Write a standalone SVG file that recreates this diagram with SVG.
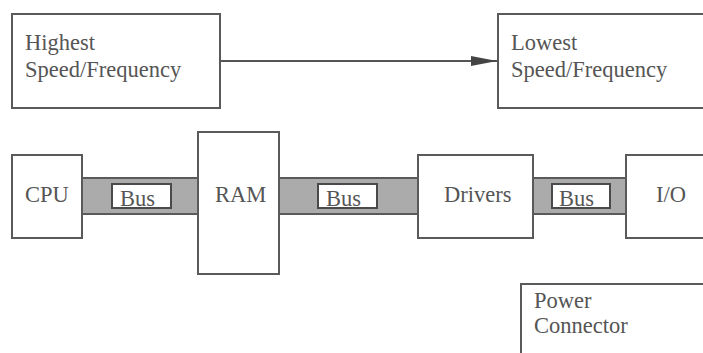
<svg xmlns="http://www.w3.org/2000/svg" width="703" height="353" viewBox="0 0 703 353">
<style>
.box{fill:#fff;stroke:#5a5a5a;stroke-width:2}
.bus{fill:#ababab;stroke:#5a5a5a;stroke-width:2}
.lbl{fill:#fff;stroke:#4a4a4a;stroke-width:2}
text{font-family:'Liberation Serif','DejaVu Serif',serif;font-size:22.5px;fill:#555}
.conn{stroke:#555;stroke-width:2;fill:none}
</style>
<defs>
<marker id="ah" markerWidth="26" markerHeight="10" refX="26" refY="5" orient="auto" markerUnits="userSpaceOnUse">
<path d="M0,0 L26,5 L0,10 Z" fill="#444"/>
</marker>
</defs>
<rect width="703" height="353" fill="#fff"/>
<g id="connectors">
<line class="conn" x1="220" y1="61" x2="497" y2="61" marker-end="url(#ah)"/>
<g id="bus1"><rect class="bus" x="82" y="178" width="116" height="36"/><rect class="lbl" x="112" y="184" width="59" height="24"/><text x="120" y="206">Bus</text></g>
<g id="bus2"><rect class="bus" x="279" y="178" width="139" height="36"/><rect class="lbl" x="318" y="184" width="59" height="24"/><text x="326" y="206">Bus</text></g>
<g id="bus3"><rect class="bus" x="533" y="178" width="93" height="36"/><rect class="lbl" x="552" y="184" width="58" height="24"/><text x="559" y="206">Bus</text></g>
</g>
<g id="highest"><rect class="box" x="12" y="14" width="208" height="94"/><text x="25" y="50">Highest</text><text x="25" y="77">Speed/Frequency</text></g>
<g id="lowest"><rect class="box" x="498" y="14" width="220" height="94"/><text x="511" y="50">Lowest</text><text x="511" y="77">Speed/Frequency</text></g>
<g id="cpu"><rect class="box" x="12" y="155" width="70" height="83"/><text x="25" y="202">CPU</text></g>
<g id="ram"><rect class="box" x="198" y="132" width="81" height="142"/><text x="215" y="202">RAM</text></g>
<g id="drivers"><rect class="box" x="418" y="155" width="115" height="83"/><text x="444" y="202">Drivers</text></g>
<g id="io"><rect class="box" x="626" y="155" width="90" height="83"/><text x="656" y="202">I/O</text></g>
<g id="power"><rect class="box" x="521" y="284" width="200" height="90"/><text x="534" y="308">Power</text><text x="534" y="333">Connector</text></g>
</svg>
